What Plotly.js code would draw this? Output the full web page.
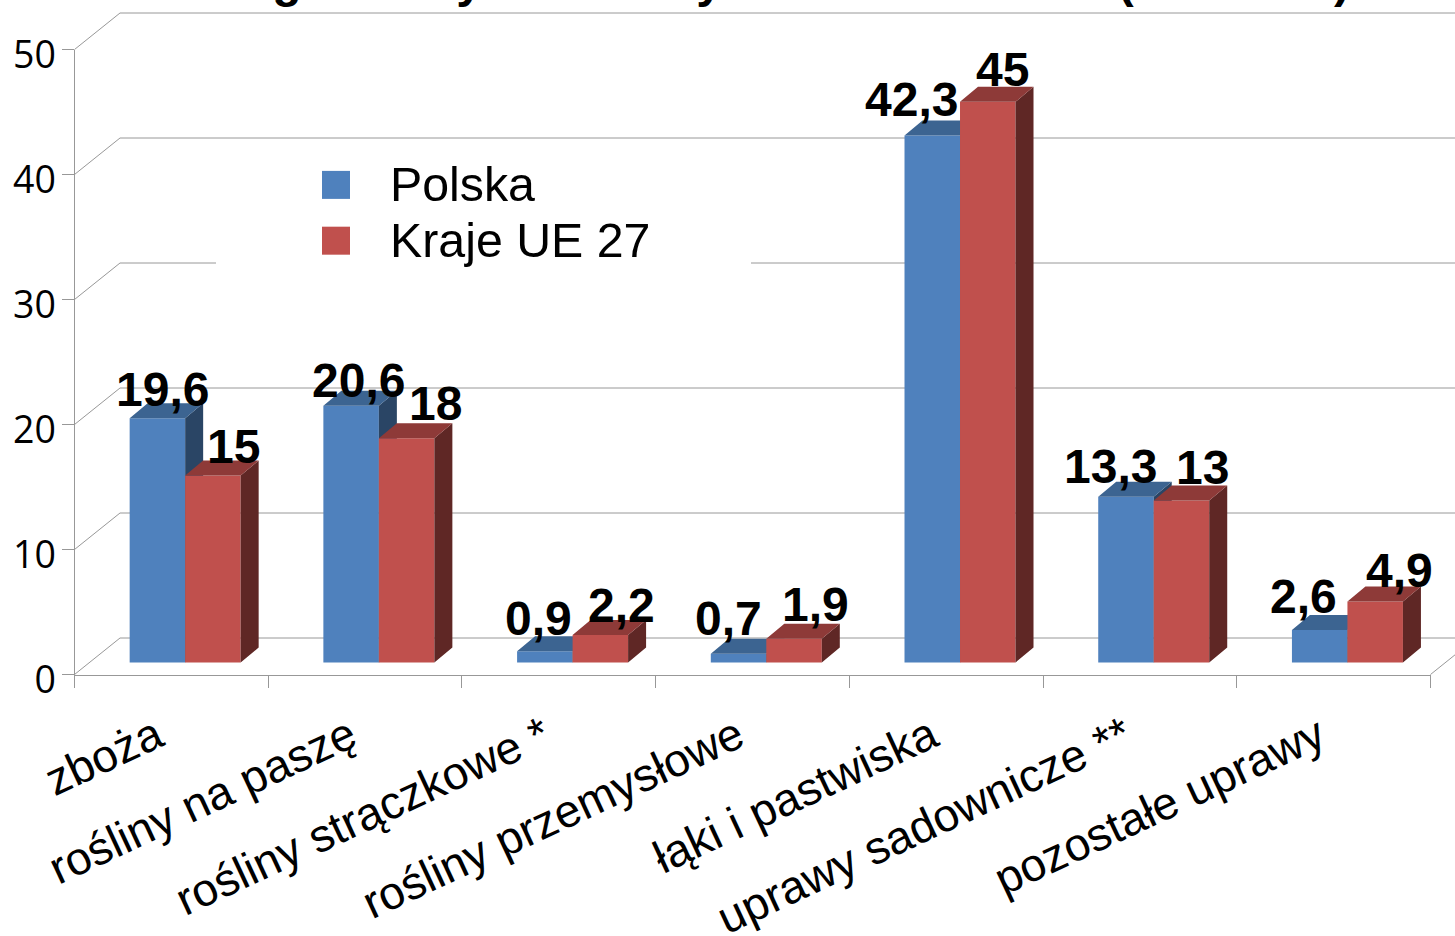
<!DOCTYPE html>
<html><head><meta charset="utf-8">
<script src="https://cdn.plot.ly/plotly-3.0.1.min.js"></script>
<style>html,body{margin:0;padding:0;background:#fff;overflow:hidden}#c{width:1455px;height:936px}</style>
</head><body><div id="c"></div>
<script>
// ---- data ----
const categories = ["zboża","rośliny na paszę","rośliny strączkowe *","rośliny przemysłowe","łąki i pastwiska","uprawy sadownicze **","pozostałe uprawy"];
const polska = [19.6,20.6,0.9,0.7,42.3,13.3,2.6];
const ue27 = [15,18,2.2,1.9,45,13,4.9];
const yTicks = [0,10,20,30,40,50];
const titleText = "Kategorie użytków rolnych w Polsce i UE (w 2007 r.)";
// ---- label nudges in px, as placed by hand on the original ----
const nudgeXP = [5,7,-6,-10,-21,-15,-16];
const nudgeYP = [29,25,33,35,36,30,34];
const nudgeXU = [21,29,21,21,15,21,24];
const nudgeYU = [29,35,30,34,32,33,31];
// ---- geometry ----
const W=1455,H=936, L=74.5,R=1430.5,B=674.5,T=49.5;
const pxX=(R-L)/7, pxY=(B-T)/50, barPxY=12.46;
const wallDX=45.5/pxX, wallDY=36.5/pxY;      // back wall offset
const planeX=13.8/pxX, planeY=12/barPxY;     // bar plane offset
const barW=55.5/pxX, depthX=18/pxX, depthY=15/barPxY;
const grey="#989898";
const n=categories.length, idx=categories.map((_,i)=>i);

function poly(list){const xs=[],ys=[];list.forEach(p=>{p.forEach(q=>{xs.push(q[0]);ys.push(q[1]);});xs.push(p[0][0]);ys.push(p[0][1]);xs.push(null);ys.push(null);});return {x:xs,y:ys};}
function face(pts,color,xa,ya){const p=poly(pts);return {type:"scatter",x:p.x,y:p.y,mode:"none",fill:"toself",fillcolor:color,xaxis:xa,yaxis:ya,hoverinfo:"skip",showlegend:false,cliponaxis:false};}
function series(name,vals,off,col,sideCol,topCol,xa,ya){
  const side=vals.map((v,i)=>{const r=i+off+barW;return [[r,0],[r+depthX,depthY],[r+depthX,v+depthY],[r,v]];});
  const top=vals.map((v,i)=>{const l=i+off,r=l+barW;return [[l,v],[r,v],[r+depthX,v+depthY],[l+depthX,v+depthY]];});
  return [
    face(side,sideCol,xa,ya),
    face(top,topCol,xa,ya),
    {type:"bar",name:name,x:idx,y:vals,width:barW,offset:off,marker:{color:col,line:{width:0}},xaxis:xa,yaxis:ya,hoverinfo:"y+name"}
  ];
}
// back wall grid, on a hidden full-page subplot so it can run past the front axes
const gx=[],gy=[];
yTicks.forEach(v=>{gx.push(-0.5,-0.5+wallDX,n-0.5+wallDX,null);gy.push(v,v+wallDY,v+wallDY,null);});
gx.push(n-0.5,n-0.5+wallDX,null);gy.push(0,wallDY,null);
const grid={type:"scatter",x:gx,y:gy,mode:"lines",line:{color:grey,width:1},xaxis:"x",yaxis:"y",hoverinfo:"skip",showlegend:false,cliponaxis:false};
const axesCarrier={type:"scatter",x:[0],y:[0],mode:"none",xaxis:"x2",yaxis:"y2",hoverinfo:"skip",showlegend:false};

const traces=[grid,axesCarrier]
 .concat(series("Polska",polska,-barW,"#4f81bd","#2a4565","#3c6491","x3","y3"))
 .concat(series("Kraje UE 27",ue27,0,"#c0504d","#5f2725","#8e3a38","x4","y4"));

const labelFont={family:"Liberation Sans, Arial, sans-serif",size:48,color:"#000"};
function labels(vals,off,nx,ny,xa,ya){return vals.map((v,i)=>({x:i+off+barW/2,y:v,xref:xa,yref:ya,text:"<b>"+String(v).replace(".",",")+"</b>",showarrow:false,xanchor:"center",yanchor:"middle",xshift:nx[i],yshift:ny[i],font:labelFont}));}

const dom={x:[L/W,R/W],y:[(H-B)/H,(H-T)/H]};
const shiftedX=[-0.5-planeX,n-0.5-planeX], shiftedY=[-planeY,-planeY+(B-T)/barPxY];
function hidden(range,extra){return Object.assign({range:range,visible:false,fixedrange:true,showgrid:false,zeroline:false},extra);}

const layout={
  width:W,height:H,margin:{l:0,r:0,t:0,b:0,pad:0},paper_bgcolor:"#fff",plot_bgcolor:"rgba(0,0,0,0)",
  barmode:"overlay",
  title:{text:"<b>"+titleText+"</b>",x:1350/W,xanchor:"right",y:1,yanchor:"bottom",pad:{b:3},font:{family:"Liberation Sans, Arial, sans-serif",size:48,color:"#000"}},
  xaxis:hidden([-0.5-L/pxX,-0.5+(W-L)/pxX],{domain:[0,1],anchor:"y"}),
  yaxis:hidden([(B-H)/pxY,B/pxY],{domain:[0,1],anchor:"x"}),
  xaxis2:{domain:dom.x,range:[-0.5,n-0.5],tickmode:"array",tickvals:idx,ticktext:categories,ticks:"",tickangle:-25,
    tickfont:{family:"Liberation Sans, Arial, sans-serif",size:46,color:"#000"},showgrid:false,zeroline:false,showline:true,linecolor:grey,linewidth:1,
    minor:{tickmode:"array",tickvals:idx.concat([n]).map(i=>i-0.5),ticks:"outside",ticklen:12,tickcolor:grey,tickwidth:1,showgrid:false},anchor:"y2",fixedrange:true,ticklabelstandoff:16,ticklabelshift:-15},
  yaxis2:{domain:dom.y,range:[0,50],tickmode:"array",tickvals:yTicks,ticks:"outside",ticklen:12,tickcolor:grey,tickwidth:1,
    tickfont:{family:"Open Sans, sans-serif",size:37.5,color:"#000"},showgrid:false,zeroline:false,showline:true,linecolor:grey,linewidth:1,anchor:"x2",fixedrange:true,ticklabelshift:5,ticklabelstandoff:-2},
  xaxis3:hidden(shiftedX,{domain:dom.x,anchor:"y3",overlaying:"x2"}),
  yaxis3:hidden(shiftedY,{domain:dom.y,anchor:"x3",overlaying:"y2"}),
  xaxis4:hidden(shiftedX,{domain:dom.x,anchor:"y4",overlaying:"x2"}),
  yaxis4:hidden(shiftedY,{domain:dom.y,anchor:"x4",overlaying:"y2"}),
  legend:{x:282/W,xanchor:"left",y:1-144/H,yanchor:"top",bgcolor:"rgba(0,0,0,0)",borderwidth:0,font:{family:"Liberation Sans, Arial, sans-serif",size:48.3,color:"#000"},itemwidth:98,itemclick:false,itemdoubleclick:false,traceorder:"normal"},
  shapes:[{type:"rect",xref:"paper",yref:"paper",x0:216/W,x1:751/W,y0:1-280/H,y1:1-145/H,fillcolor:"#fff",line:{width:0},layer:"above"}],
  annotations:labels(polska,-barW,nudgeXP,nudgeYP,"x3","y3").concat(labels(ue27,0,nudgeXU,nudgeYU,"x4","y4")),
  showlegend:true,hovermode:"closest"
};
Plotly.newPlot("c",traces,layout,{displayModeBar:false}).then(()=>{
  // the original legend has larger swatches and tighter rows than Plotly's defaults
  document.querySelectorAll(".legend g.legendpoints path").forEach(p=>p.setAttribute("d","M14,17H-14V-11H14Z"));
  const rows=document.querySelectorAll(".legend .traces");
  if(rows[1]){const m=/translate\(([^,]+),\s*([^)]+)\)/.exec(rows[1].getAttribute("transform"));
    if(m)rows[1].setAttribute("transform","translate("+m[1]+","+(parseFloat(m[2])-10)+")");}
});
</script></body></html>
